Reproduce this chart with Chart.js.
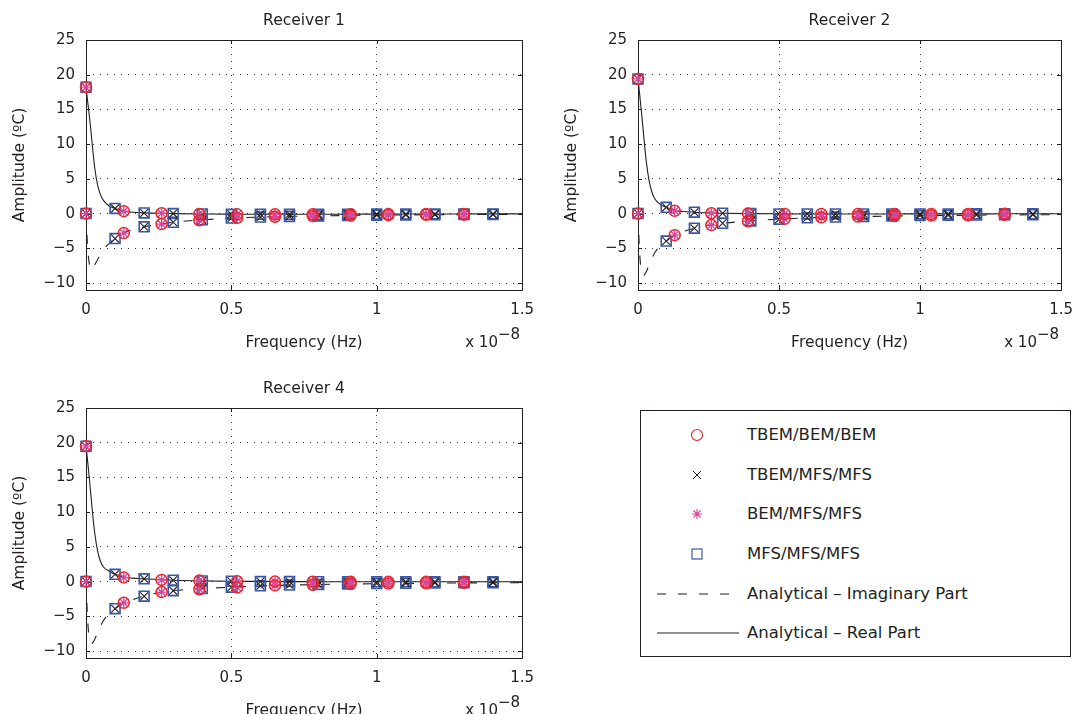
<!DOCTYPE html>
<html>
<head>
<meta charset="utf-8">
<script src="https://cdn.jsdelivr.net/npm/chart.js@4.4.1/dist/chart.umd.min.js"></script>
<style>
  html, body { margin:0; padding:0; background:#fff; overflow:hidden; width:1084px; height:714px; }
  .plot { position:absolute; }
  #legend { position:absolute; left:640px; top:410px; width:429px; height:245px; border:1px solid #231f20;
            font-family:"DejaVu Sans"; font-size:16.5px; color:#231f20; }
  #legend svg { position:absolute; left:0; top:0; }
  #legend span { position:absolute; left:106px; line-height:20px; white-space:nowrap; }
</style>
</head>
<body>
<canvas id="r1" class="plot" style="left:0;top:0" width="545" height="360"></canvas>
<canvas id="r2" class="plot" style="left:552px;top:0" width="532" height="360"></canvas>
<canvas id="r4" class="plot" style="left:0;top:368px" width="545" height="360"></canvas>

<div id="legend">
  <svg width="429" height="245">
    <circle cx="56" cy="24" r="5.5" fill="none" stroke="#e8262f" stroke-width="1.2"/>
    <path d="M52,60 L60,68 M60,60 L52,68" stroke="#231f20" stroke-width="1"/>
    <path d="M56,98 L56,108 M51,103 L61,103 M52.5,99.5 L59.5,106.5 M59.5,99.5 L52.5,106.5" stroke="#d9479b" stroke-width="1.1"/>
    <rect x="51" y="138" width="10" height="10" fill="none" stroke="#3a57a7" stroke-width="1.2"/>
    <line x1="16" y1="183" x2="93" y2="183" stroke="#231f20" stroke-width="1" stroke-dasharray="9,12"/>
    <line x1="16" y1="222" x2="98" y2="222" stroke="#231f20" stroke-width="1"/>
  </svg>
  <span style="top:14px">TBEM/BEM/BEM</span>
  <span style="top:54px">TBEM/MFS/MFS</span>
  <span style="top:93px">BEM/MFS/MFS</span>
  <span style="top:133px">MFS/MFS/MFS</span>
  <span style="top:173px">Analytical – Imaginary Part</span>
  <span style="top:212px">Analytical – Real Part</span>
</div>

<script>
// frequencies (x 1e-8 Hz)
const freqMFS = [0, 0.1, 0.2, 0.3, 0.4, 0.5, 0.6, 0.7, 0.8, 0.9, 1.0, 1.1, 1.2, 1.3, 1.4];
const freqBEM = [0, 0.13, 0.26, 0.39, 0.52, 0.65, 0.78, 0.91, 1.04, 1.17, 1.30];
const freqAna = [0, 0.005, 0.01, 0.015, 0.02, 0.03, 0.04, 0.05, 0.06, 0.08, 0.1, 0.13, 0.16, 0.2,
                 0.25, 0.3, 0.4, 0.5, 0.6, 0.7, 0.8, 0.9, 1.0, 1.1, 1.2, 1.3, 1.4, 1.5];

const xTickVals = [0, 0.5, 1, 1.5];
const xTickLabels = ["0", "0.5", "1", "1.5"];
const yTickVals = [-10, -5, 0, 5, 10, 15, 20, 25];
const yTickLabels = ["\u221210", "\u22125", "0", "5", "10", "15", "20", "25"];

// Receiver 1
const r1RealMFS = [18.2, 0.75, 0.1, 0.0, -0.05, -0.1, -0.1, -0.1, -0.1, -0.08, -0.07, -0.06, -0.05, -0.05, -0.04];
const r1ImagMFS = [0, -3.6, -1.9, -1.25, -0.9, -0.65, -0.5, -0.4, -0.33, -0.27, -0.22, -0.19, -0.16, -0.14, -0.12];
const r1RealBEM = [18.2, 0.35, 0.05, -0.05, -0.1, -0.1, -0.1, -0.08, -0.07, -0.06, -0.05];
const r1ImagBEM = [0, -2.8, -1.5, -0.95, -0.62, -0.45, -0.35, -0.27, -0.22, -0.18, -0.15];
const r1RealAna = [18.2, 16.4, 14.6, 12.7, 10.6, 6.6, 4.1, 2.7, 1.9, 1.1, 0.75, 0.35, 0.2, 0.1,
                   0.03, 0.0, -0.05, -0.08, -0.1, -0.1, -0.1, -0.08, -0.07, -0.06, -0.05, -0.05, -0.04, -0.04];
const r1ImagAna = [0, -4.5, -6.8, -7.8, -8.1, -7.4, -6.6, -5.9, -5.2, -4.3, -3.6, -2.8, -2.3, -1.9,
                   -1.55, -1.25, -0.9, -0.65, -0.5, -0.4, -0.33, -0.27, -0.22, -0.19, -0.16, -0.14, -0.12, -0.11];

// Receiver 2
const r2RealMFS = [19.4, 0.9, 0.2, 0.05, 0.0, -0.05, -0.05, -0.05, -0.05, -0.05, -0.04, -0.04, -0.03, -0.03, -0.03];
const r2ImagMFS = [0, -3.95, -2.1, -1.4, -1.05, -0.8, -0.6, -0.5, -0.4, -0.33, -0.28, -0.24, -0.2, -0.18, -0.16];
const r2RealBEM = [19.4, 0.4, 0.05, 0.0, -0.05, -0.05, -0.05, -0.05, -0.04, -0.04, -0.03];
const r2ImagBEM = [0, -3.1, -1.65, -1.1, -0.75, -0.55, -0.42, -0.34, -0.28, -0.23, -0.19];
const r2RealAna = [19.4, 17.5, 15.5, 13.5, 11.3, 7.3, 4.6, 3.0, 2.1, 1.3, 0.9, 0.45, 0.3, 0.2,
                   0.1, 0.05, 0.0, -0.03, -0.05, -0.05, -0.05, -0.05, -0.04, -0.04, -0.04, -0.03, -0.03, -0.03];
const r2ImagAna = [0, -5.0, -7.8, -8.8, -8.9, -8.3, -7.3, -6.4, -5.6, -4.6, -3.95, -3.1, -2.6, -2.1,
                   -1.7, -1.4, -1.05, -0.8, -0.62, -0.5, -0.42, -0.35, -0.3, -0.26, -0.22, -0.19, -0.17, -0.15];

// Receiver 4
const r4RealMFS = [19.5, 1.05, 0.4, 0.2, 0.1, 0.05, 0.0, 0.0, -0.02, -0.03, -0.03, -0.03, -0.03, -0.03, -0.03];
const r4ImagMFS = [0, -3.9, -2.1, -1.3, -1.0, -0.8, -0.6, -0.5, -0.4, -0.33, -0.28, -0.24, -0.2, -0.18, -0.16];
const r4RealBEM = [19.5, 0.6, 0.25, 0.15, 0.05, 0.0, -0.02, -0.03, -0.03, -0.03, -0.03];
const r4ImagBEM = [0, -3.05, -1.5, -1.1, -0.85, -0.55, -0.45, -0.35, -0.28, -0.23, -0.19];
const r4RealAna = [19.5, 17.6, 15.5, 13.3, 11.0, 7.0, 4.4, 2.9, 2.1, 1.5, 1.05, 0.65, 0.5, 0.4,
                   0.3, 0.2, 0.1, 0.05, 0.03, 0.0, -0.02, -0.02, -0.03, -0.03, -0.03, -0.03, -0.03, -0.03];
const r4ImagAna = [0, -5.0, -7.8, -8.8, -8.9, -8.3, -7.3, -6.4, -5.6, -4.6, -3.9, -3.05, -2.6, -2.1,
                   -1.6, -1.3, -1.0, -0.8, -0.62, -0.5, -0.42, -0.35, -0.3, -0.26, -0.22, -0.19, -0.17, -0.15];

const INK = "#231f20";
const FONT = "DejaVu Sans";

function pts(xs, ys){ return xs.map((x, i) => ({x: x, y: ys[i]})); }

// box round the axes, inward ticks, and the x 10^-8 exponent
const boxPlugin = {
  id: "box",
  beforeDatasetsDraw(chart){
    const {ctx, chartArea: a, scales} = chart;
    ctx.save();
    ctx.strokeStyle = INK; ctx.lineWidth = 1; ctx.setLineDash([]);
    ctx.strokeRect(Math.round(a.left) + 0.5, Math.round(a.top) + 0.5,
                   Math.round(a.right - a.left), Math.round(a.bottom - a.top));
    ctx.beginPath();
    xTickVals.forEach(v => {
      const px = Math.round(scales.x.getPixelForValue(v)) + 0.5;
      ctx.moveTo(px, a.bottom); ctx.lineTo(px, a.bottom - 4);
      ctx.moveTo(px, a.top); ctx.lineTo(px, a.top + 4);
    });
    yTickVals.forEach(v => {
      const py = Math.round(scales.y.getPixelForValue(v)) + 0.5;
      ctx.moveTo(a.left, py); ctx.lineTo(a.left + 4, py);
      ctx.moveTo(a.right, py); ctx.lineTo(a.right - 4, py);
    });
    ctx.stroke();
    ctx.restore();
  },
  afterDraw(chart){
    const {ctx, chartArea: a} = chart;
    ctx.save();
    ctx.fillStyle = INK;
    ctx.font = "15px '" + FONT + "'";
    ctx.textBaseline = "middle";
    ctx.textAlign = "right";
    ctx.fillText("\u22128", a.right - 2, a.bottom + 45);
    const w = ctx.measureText("\u22128").width;
    ctx.fillText("x 10", a.right - 2 - w, a.bottom + 53);
    ctx.restore();
  }
};

function makePlot(id, title, realMFS, imagMFS, realBEM, imagBEM, realAna, imagAna){
  const tickFont = {family: FONT, size: 15};
  const labelFont = {family: FONT, size: 15.5};
  new Chart(document.getElementById(id), {
    type: "scatter",
    data: {
      datasets: [
        {label: "TBEM/BEM/BEM", data: pts(freqBEM, realBEM).concat(pts(freqBEM, imagBEM)),
         pointStyle: "circle", pointRadius: 5.5, borderColor: "#e8262f", backgroundColor: "rgba(0,0,0,0)",
         borderWidth: 1.5, clip: false},
        {label: "BEM/MFS/MFS", data: pts(freqBEM, realBEM).concat(pts(freqBEM, imagBEM)),
         pointStyle: "star", pointRadius: 5, borderColor: "#d9479b", backgroundColor: "rgba(0,0,0,0)",
         borderWidth: 1.3, clip: false},
        {label: "TBEM/MFS/MFS", data: pts(freqMFS, realMFS).concat(pts(freqMFS, imagMFS)),
         pointStyle: "crossRot", pointRadius: 5.5, borderColor: INK, backgroundColor: "rgba(0,0,0,0)",
         borderWidth: 1.1, clip: false},
        {label: "MFS/MFS/MFS", data: pts(freqMFS, realMFS).concat(pts(freqMFS, imagMFS)),
         pointStyle: "rect", pointRadius: 7, borderColor: "#3a57a7", backgroundColor: "rgba(0,0,0,0)",
         borderWidth: 1.6, clip: false},
        {label: "Analytical – Imaginary Part", data: pts(freqAna, imagAna), showLine: true,
         pointRadius: 0, borderColor: INK, borderWidth: 1.1, borderDash: [9, 12],
         cubicInterpolationMode: "monotone"},
        {label: "Analytical – Real Part", data: pts(freqAna, realAna), showLine: true,
         pointRadius: 0, borderColor: INK, borderWidth: 1.1, cubicInterpolationMode: "monotone"}
      ]
    },
    options: {
      responsive: false,
      animation: false,
      events: [],
      layout: {padding: {left: 0, right: 0, top: 0, bottom: 0}},
      plugins: {
        legend: {display: false},
        tooltip: {enabled: false},
        title: {display: true, text: title, color: INK, fullSize: false,
                font: {family: FONT, size: 15.5, weight: "normal"},
                padding: {top: 11.2, bottom: 10.2}}
      },
      scales: {
        x: {
          type: "linear", min: 0, max: 1.5,
          afterBuildTicks: s => { s.ticks = xTickVals.map(v => ({value: v})); },
          afterFit: s => { s.height = 70; },
          ticks: {font: tickFont, color: INK, padding: 11, maxRotation: 0, autoSkip: false,
                  callback: v => xTickLabels[xTickVals.indexOf(v)]},
          grid: {color: "#333", lineWidth: 1, drawTicks: false},
          border: {display: false, dash: [1, 6]},
          title: {display: true, text: "Frequency (Hz)", color: INK, font: labelFont,
                  padding: {top: 0, bottom: 8}}
        },
        y: {
          type: "linear", min: -11, max: 25,
          afterBuildTicks: s => { s.ticks = yTickVals.map(v => ({value: v})); },
          afterFit: s => { s.width = 86; },
          ticks: {font: tickFont, color: INK, padding: 11, autoSkip: false,
                  callback: v => yTickLabels[yTickVals.indexOf(v)]},
          grid: {color: "#333", lineWidth: 1, drawTicks: false},
          border: {display: false, dash: [1, 6]},
          title: {display: true, text: "Amplitude (\u00baC)", color: INK, font: labelFont,
                  padding: {top: 10.7, bottom: 0}}
        }
      }
    },
    plugins: [boxPlugin]
  });
}

makePlot("r1", "Receiver 1", r1RealMFS, r1ImagMFS, r1RealBEM, r1ImagBEM, r1RealAna, r1ImagAna);
makePlot("r2", "Receiver 2", r2RealMFS, r2ImagMFS, r2RealBEM, r2ImagBEM, r2RealAna, r2ImagAna);
makePlot("r4", "Receiver 4", r4RealMFS, r4ImagMFS, r4RealBEM, r4ImagBEM, r4RealAna, r4ImagAna);
</script>
</body>
</html>
